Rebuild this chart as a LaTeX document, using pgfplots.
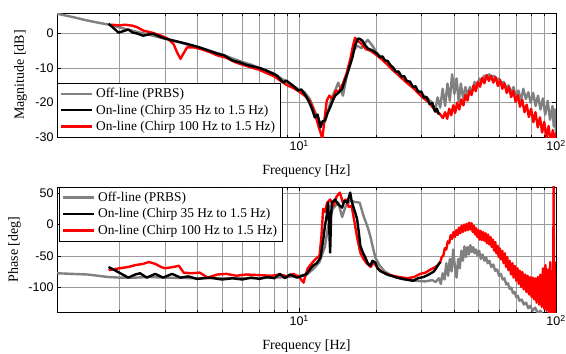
\documentclass[border=0pt]{standalone}
\usepackage{fontspec}
\setmainfont{Liberation Serif}
\newfontfamily\sansticks{Liberation Sans}
\usepackage{pgfplots}
\pgfplotsset{compat=1.18}

\definecolor{offgray}{RGB}{128,128,128}
\definecolor{gridgray}{RGB}{155,155,155}

\pgfplotsset{
  legend image code/.code={\draw[line width=2.4pt, #1] (0pt,0pt) -- (31pt,0pt);},
  every axis plot/.append style={line width=2.4pt, line join=round},
  legend cell align=left,
  major grid style={gridgray, line width=0.5pt},
  minor grid style={gridgray, line width=0.5pt},
  every tick/.style={black, line width=0.5pt},
  axis line style={line width=0.8pt},
  ticklabel style={font=\sansticks\fontsize{12.5}{13}\selectfont},
  label style={font=\fontsize{14}{16}\selectfont},
  xlabel style={at={(axis description cs:0.5,0)}, anchor=north, inner sep=0pt, yshift=-28pt},
  legend style={draw=black, fill=white,
      font=\fontsize{13.4}{15}\selectfont, inner xsep=3pt, inner ysep=2.5pt,
      row sep=0.5pt, nodes={inner sep=2.5pt}},
}

\begin{document}
\begin{tikzpicture}
\useasboundingbox (0pt,0pt) rectangle (566pt,354pt);

%================ MAGNITUDE =================
\begin{axis}[xmode=log, scale only axis, width=499pt, height=124pt, xmin=1.14, xmax=100,
  at={(57pt,217pt)}, anchor=south west,
  xtick={10,100}, xticklabels={10\textsuperscript{1},10\textsuperscript{2}},
  minor xtick={2,3,4,5,6,7,8,9,20,30,40,50,60,70,80,90},
  xmajorgrids, xminorgrids, ymajorgrids,
  tick align=inside, major tick length=4pt, minor tick length=2.5pt,
  /pgf/number format/assume math mode=true,
  xlabel={Frequency [Hz]},
  ymin=-30, ymax=6, ytick={-30,-20,-10,0},
  ylabel={Magnitude [dB]},
  ylabel style={at={(axis description cs:0,0.5)}, anchor=south, inner sep=0pt, yshift=30pt},
  legend style={at={(0,0)}, anchor=south west}]
% off-line PRBS
\addplot[offgray] coordinates {
(1.14,5.8) (1.3,4.9) (1.5,3.8) (1.7,3.0) (1.85,2.5) (2.0,1.8) (2.2,1.0) (2.5,0.0)
(2.8,-0.9) (3.2,-2.0) (3.6,-3.0) (4.0,-3.9) (4.5,-5.0) (5.0,-6.0) (5.5,-7.2) (6.0,-8.2)
(6.5,-9.0) (7.0,-10.0) (7.5,-10.8) (8.0,-11.6) (8.5,-13.0) (9.0,-14.0) (9.5,-15.2)
(10.0,-16.3) (10.5,-17.0) (11.0,-19.0) (11.5,-22.5) (12.0,-25.5) (12.3,-26.5)
(12.6,-25.5) (13.0,-22.0) (13.4,-18.5) (13.8,-16.5) (14.2,-14.2) (14.8,-18.0)
(15.3,-12.5) (15.8,-7.8) (16.3,-5.0) (16.8,-3.5) (17.5,-4.2) (18.0,-2.8) (18.5,-1.8)
(19.3,-3.5) (20.0,-5.5) (21.5,-7.8) (23,-10.5) (25,-12.8) (27.8,-15.5) (30,-17.5)
(33,-20) (33.8,-22.5) (34.6,-18.5) (35.4,-21.5) (36.2,-16) (37,-21) (37.8,-14.5)
(38.6,-19.5) (39.4,-11.8) (40.2,-17.5) (41,-13) (41.8,-19.8) (42.6,-14.5) (43.5,-18.8)
(44.4,-15.5) (45.3,-18) (46.2,-15.5) (47.2,-16.8) (48.2,-14) (49.2,-15.2) (50.3,-13)
(51.4,-14) (52.5,-12.2) (53.7,-13.2) (54.9,-11.8) (56.1,-12.6) (57.3,-12.2) (58.6,-13.4)
(59.9,-13) (61.2,-14.6) (62.5,-14) (63.9,-15.8) (65.3,-15) (66.8,-17.2) (68.3,-15.5)
(69.8,-18.4) (71.4,-16.5) (73,-19.5) (74.6,-16) (76.3,-19) (78,-17) (79.7,-20)
(81.5,-17.2) (83.3,-21) (85.1,-18) (87,-22) (88.9,-18.8) (90.8,-23.5) (92.8,-19.5)
(94.8,-25) (96.9,-21) (98,-27) (99,-22) (100,-29)
};
\addlegendentry{Off-line (PRBS)}
\addlegendimage{black, line width=2.4pt}
\addlegendentry{On-line (Chirp 35 Hz to 1.5 Hz)}
\addlegendimage{red, line width=2.4pt}
\addlegendentry{On-line (Chirp 100 Hz to 1.5 Hz)}
% chirp 100 Hz
\addplot[red, forget plot] coordinates {
(1.85,2.6) (2.0,2.4) (2.1,2.6) (2.25,2.3) (2.35,1.8) (2.47,0.9) (2.7,0.2) (2.9,-0.6)
(3.07,-1.4) (3.24,-3.0) (3.35,-5.5) (3.45,-7.3) (3.54,-5.8) (3.66,-4.0) (3.9,-4.0)
(4.2,-4.6) (4.5,-5.4) (4.8,-6.3) (5.2,-7.0) (5.6,-8.2) (6.0,-9.0) (6.5,-9.8) (7.0,-10.5)
(7.5,-11.5) (8.0,-12.4) (8.5,-13.8) (9.0,-15.0) (9.5,-15.8) (10.0,-16.8) (10.5,-18.0)
(11.0,-19.5) (11.3,-21.5) (11.6,-24.0) (11.9,-27.0) (12.15,-29.0) (12.3,-30.5)
(12.5,-26.0) (12.8,-19.5) (13.1,-18.0) (13.5,-19.0) (13.9,-16.5) (14.3,-16.8)
(14.8,-14.5) (15.3,-11.5) (15.8,-7.5) (16.2,-3.5) (16.5,-1.2) (16.9,-2.0) (17.5,-3.0)
(18.2,-4.5) (19.0,-5.0) (20.0,-6.2) (21.0,-7.5) (22.5,-9.6) (24.0,-11.5) (26.0,-14.0)
(28.0,-16.0) (30.0,-18.3) (32.0,-20.0) (34.0,-22.5) (35.2,-23.2)
(36.3,-24.5) (37.0,-22.8) (37.7,-24.7) (38.4,-21.8) (39.1,-23.7) (39.8,-20.8)
(40.5,-23.0) (41.2,-20.0) (42.0,-22.0) (42.8,-19.1) (43.6,-20.8) (44.4,-17.8)
(45.2,-19.4) (46.0,-16.6) (46.9,-17.8) (47.8,-15.0) (48.7,-16.7) (49.6,-14.0)
(50.6,-15.4) (51.6,-12.8) (52.6,-14.4) (53.7,-12.0) (54.8,-13.7) (55.9,-12.2)
(57.0,-14.2) (58.2,-12.6) (59.4,-15.2) (60.6,-13.4) (61.8,-16.0) (63.0,-14.4)
(64.3,-17.2) (65.6,-15.4) (66.9,-18.4) (68.2,-16.6) (69.6,-19.8) (71.0,-17.8)
(72.4,-21.2) (73.9,-19.2) (75.4,-22.8) (76.9,-20.6) (78.4,-24.2) (80.0,-21.8)
(81.6,-25.7) (83.2,-22.8) (84.9,-27.2) (86.6,-24.3) (88.3,-28.7) (90.0,-25.6)
(91.8,-30.2) (93.6,-26.8) (95.4,-32.0) (97.2,-28.0) (98.5,-33.0) (99.3,-29.0) (100,-33)
};
% chirp 35 Hz
\addplot[black, forget plot] coordinates {
(1.81,2.9) (1.9,1.5) (1.98,0.3) (2.08,0.8) (2.16,1.2) (2.25,0.3) (2.35,0.0) (2.47,-0.6)
(2.6,-0.2) (2.7,0.0) (2.85,-0.8) (3.0,-1.4) (3.24,-2.0) (3.5,-2.6) (3.8,-3.3) (4.1,-4.0)
(4.4,-4.8) (4.8,-5.8) (5.1,-6.3) (5.5,-7.8) (5.8,-8.2) (6.2,-9.0) (6.6,-9.5) (7.05,-10.0)
(7.5,-10.8) (7.9,-11.6) (8.2,-12.2) (8.66,-14.2) (8.9,-13.6) (9.23,-14.5) (9.6,-15.5)
(9.9,-16.5) (10.2,-16.2) (10.4,-17.1) (10.7,-18.5) (11.0,-20.3) (11.3,-22.5) (11.5,-24.3)
(11.8,-23.5) (12.1,-27.2) (12.3,-25.5) (12.6,-25.2) (12.9,-23.0) (13.2,-21.4)
(13.5,-19.5) (13.8,-18.0) (14.2,-17.2) (14.7,-16.0) (15.0,-14.0) (15.4,-11.6)
(15.8,-9.0) (16.1,-7.0) (16.5,-3.5) (16.8,-2.0) (17.0,-1.4) (17.3,-1.6) (17.6,-2.0)
(18.0,-3.2) (18.5,-4.3) (19.2,-4.8) (20.1,-5.8) (20.6,-6.8) (21.1,-6.6) (21.6,-7.8)
(22.1,-7.9) (22.7,-9.2) (23.2,-9.8) (23.8,-11) (24.4,-11) (25,-12.4) (25.6,-12.3)
(26.3,-13.8) (27,-13.9) (27.7,-15.4) (28.4,-15.3) (29.1,-16.9) (29.9,-16.8)
(30.6,-18.6) (31.4,-18.4) (32.2,-20.5) (33,-20.2) (33.8,-22.6) (34.4,-21.8) (35,-23.5)
};
\end{axis}

%================ PHASE =================
\begin{axis}[xmode=log, scale only axis, width=499pt, height=125pt, xmin=1.14, xmax=100,
  at={(57pt,42pt)}, anchor=south west,
  xtick={10,100}, xticklabels={10\textsuperscript{1},10\textsuperscript{2}},
  minor xtick={2,3,4,5,6,7,8,9,20,30,40,50,60,70,80,90},
  xmajorgrids, xminorgrids, ymajorgrids,
  tick align=inside, major tick length=4pt, minor tick length=2.5pt,
  /pgf/number format/assume math mode=true,
  xlabel={Frequency [Hz]},
  ymin=-140, ymax=60, ytick={-100,-50,0,50},
  ylabel={Phase [deg]},
  ylabel style={at={(axis description cs:0,0.5)}, anchor=south, inner sep=0pt, yshift=36pt},
  legend style={at={(0,1)}, anchor=north west, xshift=2pt}]
\addplot[offgray] coordinates {
(1.14,-78) (1.3,-79) (1.5,-80) (1.8,-84) (2.0,-85) (2.3,-85) (2.6,-84) (3.0,-85)
(4,-86) (5,-86) (6,-86) (7,-86) (8,-85) (9,-84) (10,-82) (10.7,-80) (11.3,-72)
(12.0,-60) (12.6,-35) (13.0,0) (13.5,25) (14.2,35) (14.7,12) (15.2,30) (15.8,38)
(16.5,36) (17.2,35) (17.8,14) (18.5,-5) (18.9,-18) (19.4,-38) (19.8,-53) (20.6,-66)
(21.5,-75) (23,-82) (25,-87) (28,-90) (31,-91)
(33,-89) (34,-92) (35,-86) (35.6,-95) (36.2,-78) (36.8,-88) (37.4,-62) (38,-82)
(38.6,-55) (39.2,-75) (39.8,-40) (40.4,-68) (41,-85) (41.6,-55) (42.2,-70) (42.8,-42)
(43.4,-58) (44,-35) (44.6,-52) (45.2,-36) (45.8,-48) (46.4,-33) (47,-44) (47.6,-36)
(48.2,-46) (48.8,-40) (49.5,-50) (50.2,-42) (51,-55) (51.8,-48) (52.6,-58) (53.4,-52)
(54.2,-62) (55,-58) (56,-68) (57,-64) (58,-74) (59,-72) (60,-82) (61,-79) (62,-88)
(63,-86) (64,-96) (65,-94) (66,-103) (67,-101) (68,-110) (69,-108) (70,-116) (71,-114)
(72,-122) (73.5,-120) (75,-128) (76.5,-125) (78,-134) (79.5,-130) (81,-138) (83,-133)
(85,-142) (87,-138) (90,-148)
};
\addlegendentry{Off-line (PRBS)}
\addlegendimage{black, line width=2.4pt}
\addlegendentry{On-line (Chirp 35 Hz to 1.5 Hz)}
\addlegendimage{red, line width=2.4pt}
\addlegendentry{On-line (Chirp 100 Hz to 1.5 Hz)}
\addplot[red, forget plot] coordinates {
(1.81,-73) (2.0,-70) (2.16,-68) (2.3,-65) (2.47,-63) (2.6,-60) (2.75,-63) (2.9,-68)
(3.0,-70) (3.24,-68) (3.4,-66) (3.55,-77) (3.8,-78) (4.1,-77) (4.4,-85) (4.8,-80)
(5.2,-79) (5.7,-82) (6.2,-80) (7,-81) (7.8,-82) (8.4,-80) (9.0,-83) (9.5,-79)
(10.0,-84) (10.4,-93) (10.6,-80) (10.8,-70) (11.0,-66) (11.3,-60) (11.6,-55)
(12.0,-50) (12.2,-20) (12.4,25) (12.6,20) (12.85,35) (13.2,40) (13.6,30) (14.0,45)
(14.4,51) (14.8,35) (15.2,40) (15.6,28) (16.0,30) (16.4,5) (16.8,-20) (17.3,-45)
(17.8,-55) (18.3,-62) (19.0,-68) (19.5,-60) (20.2,-70) (21.0,-76) (22.5,-81)
(24.5,-84) (26.5,-86) (28,-84) (29.6,-79) (31,-77) (32.5,-72) (34,-68)
(35.4,-61) (35.9,-52) (36.4,-50) (36.9,-38) (37.4,-40) (37.9,-27) (38.4,-30) (38.9,-17)
(39.4,-23) (39.9,-12) (40.4,-20) (40.9,-9) (41.4,-17) (41.9,-5) (42.4,-14) (42.9,-2)
(43.4,-12) (43.9,0) (44.4,-10) (44.9,1) (45.4,-9) (45.9,3) (46.4,-8) (46.9,2)
(47.4,-12) (47.9,-2) (48.4,-16) (48.9,-6) (49.4,-20) (49.9,-9) (50.4,-24) (50.9,-10)
(51.4,-25) (52.0,-12) (52.6,-26) (53.2,-14) (53.8,-30) (54.4,-16) (55.0,-32) (55.6,-20)
(56.2,-36) (56.8,-24) (57.4,-42) (58.0,-28) (58.6,-46) (59.2,-34) (59.8,-52) (60.4,-38)
(61.1,-56) (61.8,-42) (62.5,-62) (63.2,-46) (63.9,-68) (64.6,-52) (65.3,-73) (66.0,-58)
(66.8,-80) (67.6,-62) (68.4,-85) (69.2,-66) (70.0,-90) (70.8,-70) (71.6,-95) (72.4,-74)
(73.2,-100) (74.0,-76) (74.9,-104) (75.8,-80) (76.7,-108) (77.6,-82) (78.5,-112)
(79.4,-84) (80.3,-116) (81.2,-85) (82.1,-120) (83.0,-86) (84.0,-125) (85.0,-84)
(86.0,-128) (87.0,-80) (88.0,-132) (89.0,-70) (90.0,-135) (91.0,-65) (92.0,-138)
(93.0,-72) (94.0,-142) (95.0,-60) (95.8,-145) (96.5,-75) (97.1,-145) (97.5,-100)
(97.9,62) (98.3,-150) (98.8,-60) (99.3,-150) (99.7,-100) (100,-145)
};
\addplot[black, forget plot] coordinates {
(1.81,-68) (1.95,-75) (2.16,-85) (2.3,-80) (2.4,-78) (2.55,-85) (2.75,-79) (2.95,-85)
(3.2,-79) (3.45,-85) (3.7,-83) (4.0,-87) (4.5,-85) (5.0,-88) (5.5,-86) (6.0,-88)
(6.5,-85) (7.0,-87) (7.5,-84) (8.0,-86) (8.4,-79) (8.8,-86) (9.2,-80) (9.8,-85)
(10.3,-82) (10.7,-79) (11.0,-72) (11.3,-66) (11.7,-62) (12.1,-53) (12.4,-25)
(12.6,-2) (12.85,19) (12.97,35) (13.1,-10) (13.2,-45) (13.3,10) (13.4,35) (13.8,40)
(14.2,32) (14.7,27) (15.0,38) (15.4,35) (15.8,51) (16.0,38) (16.2,30) (16.5,20)
(16.8,9) (17.1,-15) (17.3,-34) (17.7,-45) (18.1,-53) (18.5,-62) (18.9,-66) (19.3,-58)
(19.8,-61) (20.2,-70) (20.6,-74) (22,-80) (24,-85) (26,-88) (27.8,-90) (29,-86)
(30.5,-84) (32,-80) (33.5,-75) (35.4,-60)
};
\end{axis}
\end{tikzpicture}
\end{document}
